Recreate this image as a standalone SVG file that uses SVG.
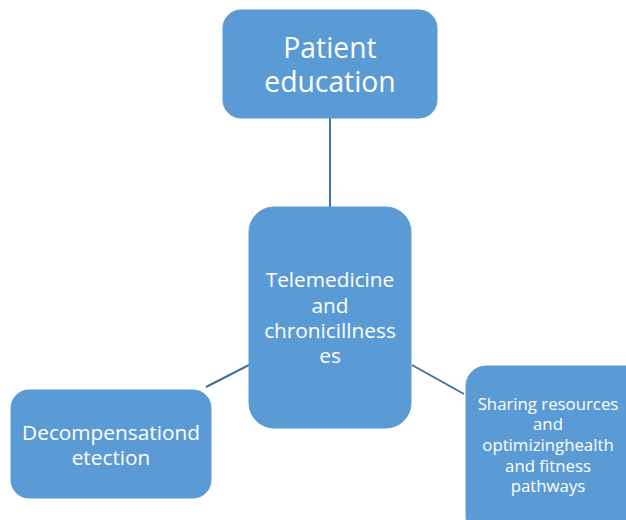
<svg xmlns="http://www.w3.org/2000/svg" width="626" height="520" viewBox="0 0 626 520">
<style>
.box{fill:#5B9BD5;stroke:#5B9BD5;stroke-width:1}
.t{fill:#fff;font-family:"Open Sans","Liberation Sans",sans-serif;text-anchor:middle}
.c{stroke:#41719C;stroke-width:2;fill:none}
</style>
<rect width="626" height="520" fill="#fff"/>
<g id="connectors">
<line class="c" x1="330" y1="118" x2="330" y2="207"/>
<line class="c" x1="206" y1="387" x2="249" y2="365"/>
<line class="c" x1="412" y1="365" x2="464" y2="394"/>
</g>
<g id="patient">
<rect class="box" x="223" y="10" width="214" height="108" rx="18"/>
<text class="t" font-size="28.3"><tspan x="330" y="58">Patient</tspan><tspan x="330" y="92">education</tspan></text>
</g>
<g id="telemedicine">
<rect class="box" x="249" y="207" width="162" height="221" rx="25"/>
<text class="t" font-size="20.8"><tspan x="330" y="287">Telemedicine</tspan><tspan x="330" y="313">and</tspan><tspan x="330" y="338">chronicillness</tspan><tspan x="330" y="363">es</tspan></text>
</g>
<g id="decomp">
<rect class="box" x="11" y="390" width="200" height="108" rx="18"/>
<text class="t" font-size="20.8"><tspan x="111" y="440">Decompensationd</tspan><tspan x="111" y="465">etection</tspan></text>
</g>
<g id="sharing">
<rect class="box" x="466" y="366" width="180" height="170" rx="20"/>
<text class="t" font-size="16.8"><tspan x="548" y="410">Sharing resources</tspan><tspan x="548" y="430">and</tspan><tspan x="548" y="451">optimizinghealth</tspan><tspan x="548" y="472">and fitness</tspan><tspan x="548" y="492">pathways</tspan></text>
</g>
</svg>
